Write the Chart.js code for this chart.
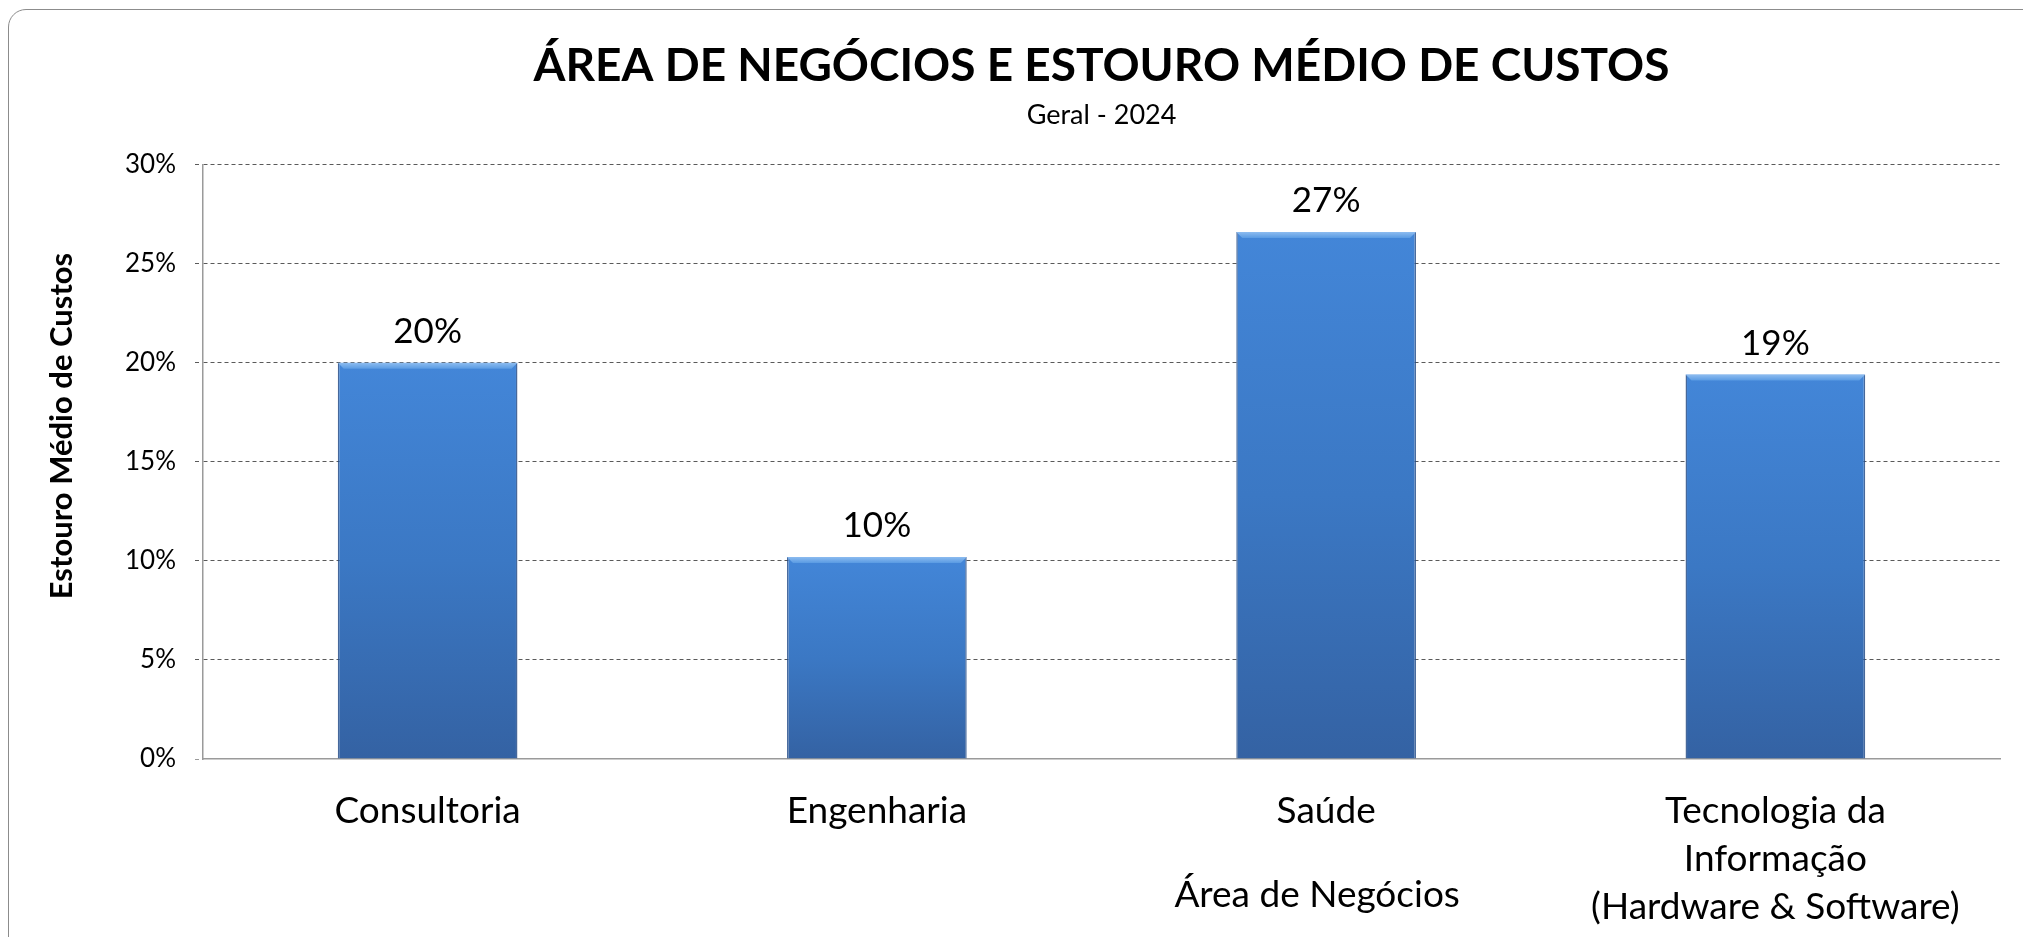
<!DOCTYPE html>
<html>
<head>
<meta charset="utf-8">
<script src="https://cdn.jsdelivr.net/npm/chart.js@4"></script>
<style>
  html, body { margin: 0; padding: 0; background: #ffffff; overflow: hidden; }
  #wrap { position: relative; width: 2023px; height: 937px; }
  #frame { position: absolute; left: 8px; top: 9px; width: 2100px; height: 1000px;
           border: 1.5px solid #8c8c8c; border-radius: 18px; box-sizing: border-box; }
  #c { position: absolute; left: 0; top: 0; }
</style>
</head>
<body>
<div id="wrap">
  <div id="frame"></div>
  <canvas id="c" width="2023" height="937"></canvas>
</div>
<script>
// ---- data ----
const categories = [
  'Consultoria',
  'Engenharia',
  'Saúde',
  ['Tecnologia da', 'Informação', '(Hardware & Software)']
];
const overrunPct = [20.0, 10.2, 26.6, 19.4];
const yTickValues = [0, 5, 10, 15, 20, 25, 30];
const chartTitle = 'ÁREA DE NEGÓCIOS E ESTOURO MÉDIO DE CUSTOS';
const chartSubtitle = 'Geral - 2024';
const xAxisTitle = 'Área de Negócios';
const yAxisTitle = 'Estouro Médio de Custos';

const FONT = "Lato, 'Open Sans', 'DejaVu Sans', sans-serif";

function barGradient(ctx) {
  const chart = ctx.chart;
  if (!chart.chartArea || !ctx.parsed) return '#3f7cc8';
  const ys = chart.scales.y;
  const top = ys.getPixelForValue(ctx.parsed.y);
  const bottom = ys.getPixelForValue(0);
  const g = chart.ctx.createLinearGradient(0, top, 0, bottom);
  g.addColorStop(0, '#4386d8');
  g.addColorStop(0.5, '#3b78c4');
  g.addColorStop(1, '#3462a3');
  return g;
}

const bevelAndLabels = {
  id: 'bevelAndLabels',
  afterDatasetsDraw(chart) {
    const ctx = chart.ctx;
    const meta = chart.getDatasetMeta(0);
    const values = chart.data.datasets[0].data;
    meta.data.forEach((bar, i) => {
      const { x, y, width } = bar.getProps(['x', 'y', 'width'], true);
      const l = x - width / 2, r = x + width / 2, h = 6;
      ctx.save();
      const g = ctx.createLinearGradient(0, y, 0, y + h);
      g.addColorStop(0, '#8dbcf0');
      g.addColorStop(1, '#5a9be3');
      ctx.fillStyle = g;
      ctx.beginPath();
      ctx.moveTo(l, y);
      ctx.lineTo(r, y);
      ctx.lineTo(r - h, y + h);
      ctx.lineTo(l + h, y + h);
      ctx.closePath();
      ctx.fill();
      ctx.restore();
      ctx.save();
      ctx.font = '35px ' + FONT;
      ctx.fillStyle = '#000000';
      ctx.textAlign = 'center';
      ctx.textBaseline = 'alphabetic';
      ctx.fillText(Math.round(values[i]) + '%', x, y - 20);
      ctx.restore();
    });
  }
};

const axisTitles = {
  id: 'axisTitles',
  afterDraw(chart) {
    const ctx = chart.ctx;
    const area = chart.chartArea;
    ctx.save();
    ctx.fillStyle = '#000000';
    ctx.textAlign = 'center';
    ctx.textBaseline = 'middle';
    ctx.font = '37px ' + FONT;
    ctx.fillText(xAxisTitle, area.left + (area.right - area.left) * 0.62, 895);
    ctx.translate(62, 426);
    ctx.rotate(-Math.PI / 2);
    ctx.font = 'bold 31px ' + FONT;
    ctx.fillText(yAxisTitle, 0, 0);
    ctx.restore();
  }
};

new Chart(document.getElementById('c'), {
  type: 'bar',
  data: {
    labels: categories,
    datasets: [{
      data: overrunPct,
      backgroundColor: barGradient,
      borderColor: 'rgba(38,78,138,0.85)',
      borderWidth: { left: 1.5, right: 1.5, top: 0, bottom: 0 },
      borderSkipped: false,
      categoryPercentage: 1.0,
      barPercentage: 0.4
    }]
  },
  options: {
    responsive: false,
    animation: false,
    layout: { padding: { left: 0, right: 23, top: 0, bottom: 6 } },
    plugins: {
      legend: { display: false },
      tooltip: { enabled: false },
      title: {
        display: true,
        fullSize: false,
        text: chartTitle,
        color: '#000000',
        font: { family: FONT, size: 46, weight: 'bold', lineHeight: 1.2 },
        padding: { top: 39, bottom: 0 }
      },
      subtitle: {
        display: true,
        fullSize: false,
        text: chartSubtitle,
        color: '#000000',
        font: { family: FONT, size: 27, lineHeight: 1.2 },
        padding: { top: 5, bottom: 33 }
      }
    },
    scales: {
      x: {
        offset: true,
        afterFit(scale) { scale.height = 172; },
        grid: { display: false, drawTicks: false },
        border: { display: true, color: '#9a9a9a', width: 1.5 },
        ticks: {
          color: '#000000',
          font: { family: FONT, size: 37, lineHeight: 1.3 },
          padding: 28,
          maxRotation: 0,
          minRotation: 0,
          autoSkip: false
        }
      },
      y: {
        min: 0,
        max: 30,
        afterFit(scale) { scale.width = 203; },
        afterBuildTicks(scale) { scale.ticks = yTickValues.map(v => ({ value: v })); },
        border: { display: true, color: '#9a9a9a', width: 1.5, dash: [4, 3] },
        grid: {
          color: c => (c.tick && c.tick.value === 0) ? 'rgba(0,0,0,0)' : '#5a5a5a',
          lineWidth: 1,
          tickColor: c => (c.tick && c.tick.value === 0) ? '#9a9a9a' : '#5a5a5a',
          tickBorderDash: [4, 3],
          tickLength: 8,
          drawTicks: true
        },
        ticks: {
          color: '#000000',
          font: { family: FONT, size: 26 },
          padding: 19,
          callback: v => v + '%'
        }
      }
    }
  },
  plugins: [bevelAndLabels, axisTitles]
});
</script>
</body>
</html>
